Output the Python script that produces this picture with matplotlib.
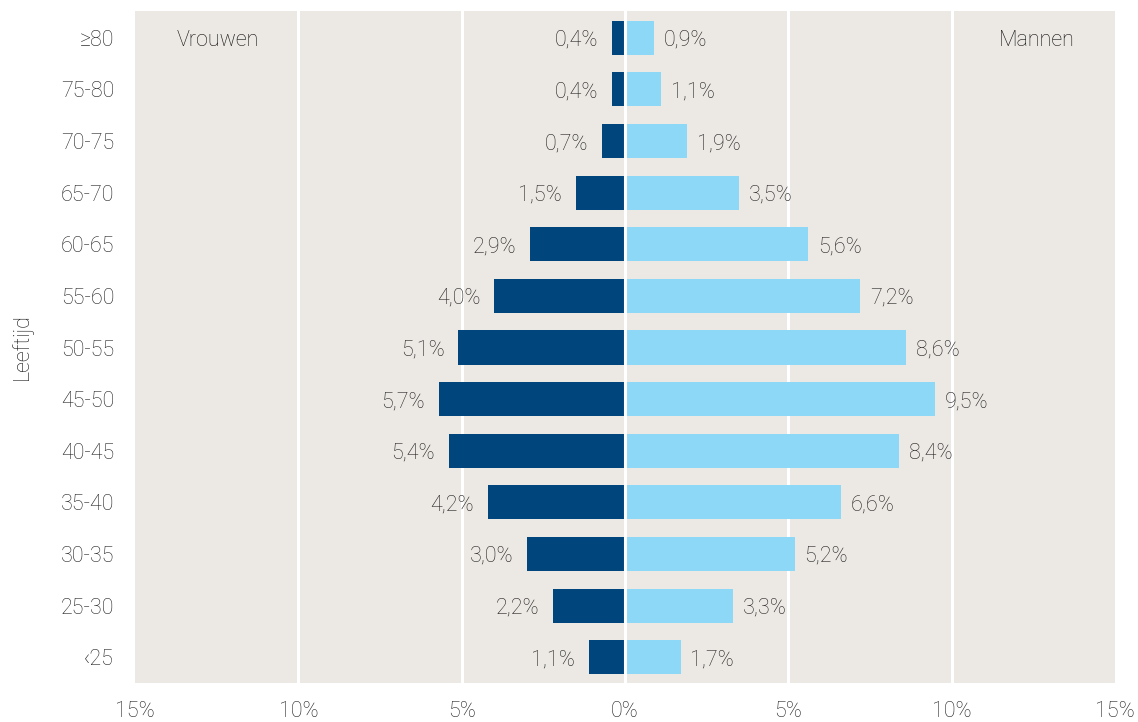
import numpy as np
import matplotlib
matplotlib.use('Agg')
import matplotlib.pyplot as plt
import matplotlib.ticker as mticker

plt.rcParams['font.family'] = ['Roboto', 'DejaVu Sans']
plt.rcParams['font.weight'] = 'light'
plt.rcParams['axes.labelweight'] = 'light'

leeftijd = ['<25', '25-30', '30-35', '35-40', '40-45', '45-50', '50-55',
            '55-60', '60-65', '65-70', '70-75', '75-80', '≥80']
leeftijd_labels = ['‹25'] + leeftijd[1:]
vrouwen = [1.1, 2.2, 3.0, 4.2, 5.4, 5.7, 5.1, 4.0, 2.9, 1.5, 0.7, 0.4, 0.4]
mannen = [1.7, 3.3, 5.2, 6.6, 8.4, 9.5, 8.6, 7.2, 5.6, 3.5, 1.9, 1.1, 0.9]

donker = '#00457C'
licht = '#8DD8F7'
achtergrond = '#ECE9E4'
tekst = '#222222'
fs = 15.5

fig = plt.figure(figsize=(11.38, 7.22), dpi=100)
ax = fig.add_axes([135/1138, 1-683/722, 980/1138, 672/722])
ax.set_facecolor(achtergrond)

y = np.arange(len(leeftijd))
hoogte = 0.66
ax.barh(y, [-v for v in vrouwen], height=hoogte, color=donker, zorder=2)
ax.barh(y, mannen, height=hoogte, color=licht, zorder=2)

for x in [-10, -5, 0, 5, 10]:
    ax.axvline(x, color='white', lw=2.2, zorder=3 if x == 0 else 1)

def fmt(v):
    return ('%.1f%%' % v).replace('.', ',')

for i, v in enumerate(vrouwen):
    ax.annotate(fmt(v), (-v, i), xytext=(-10, 0), textcoords='offset points',
                ha='right', va='center_baseline', fontsize=fs, color=tekst)
for i, v in enumerate(mannen):
    ax.annotate(fmt(v), (v, i), xytext=(7, 0), textcoords='offset points',
                ha='left', va='center_baseline', fontsize=fs, color=tekst)

ax.text(-12.45, 12, 'Vrouwen', ha='center', va='center_baseline', fontsize=fs, color='#111111')
ax.text(12.6, 12, 'Mannen', ha='center', va='center_baseline', fontsize=fs, color='#111111')

ax.set_xlim(-15, 15)
ax.set_ylim(-0.5, 12.52)
ax.set_xticks([-15, -10, -5, 0, 5, 10, 15])
ax.xaxis.set_major_formatter(mticker.FuncFormatter(lambda v, p: '%d%%' % abs(v)))
ax.set_yticks(y)
ax.set_yticklabels(leeftijd_labels)
ax.tick_params(axis='both', length=0, labelsize=fs, labelcolor=tekst)
ax.tick_params(axis='x', pad=13)
ax.tick_params(axis='y', pad=15)
ax.set_ylabel('Leeftijd', fontsize=fs, color='#111111', labelpad=20)
for s in ax.spines.values():
    s.set_visible(False)

fig.savefig('out.png', dpi=100, facecolor='white')
